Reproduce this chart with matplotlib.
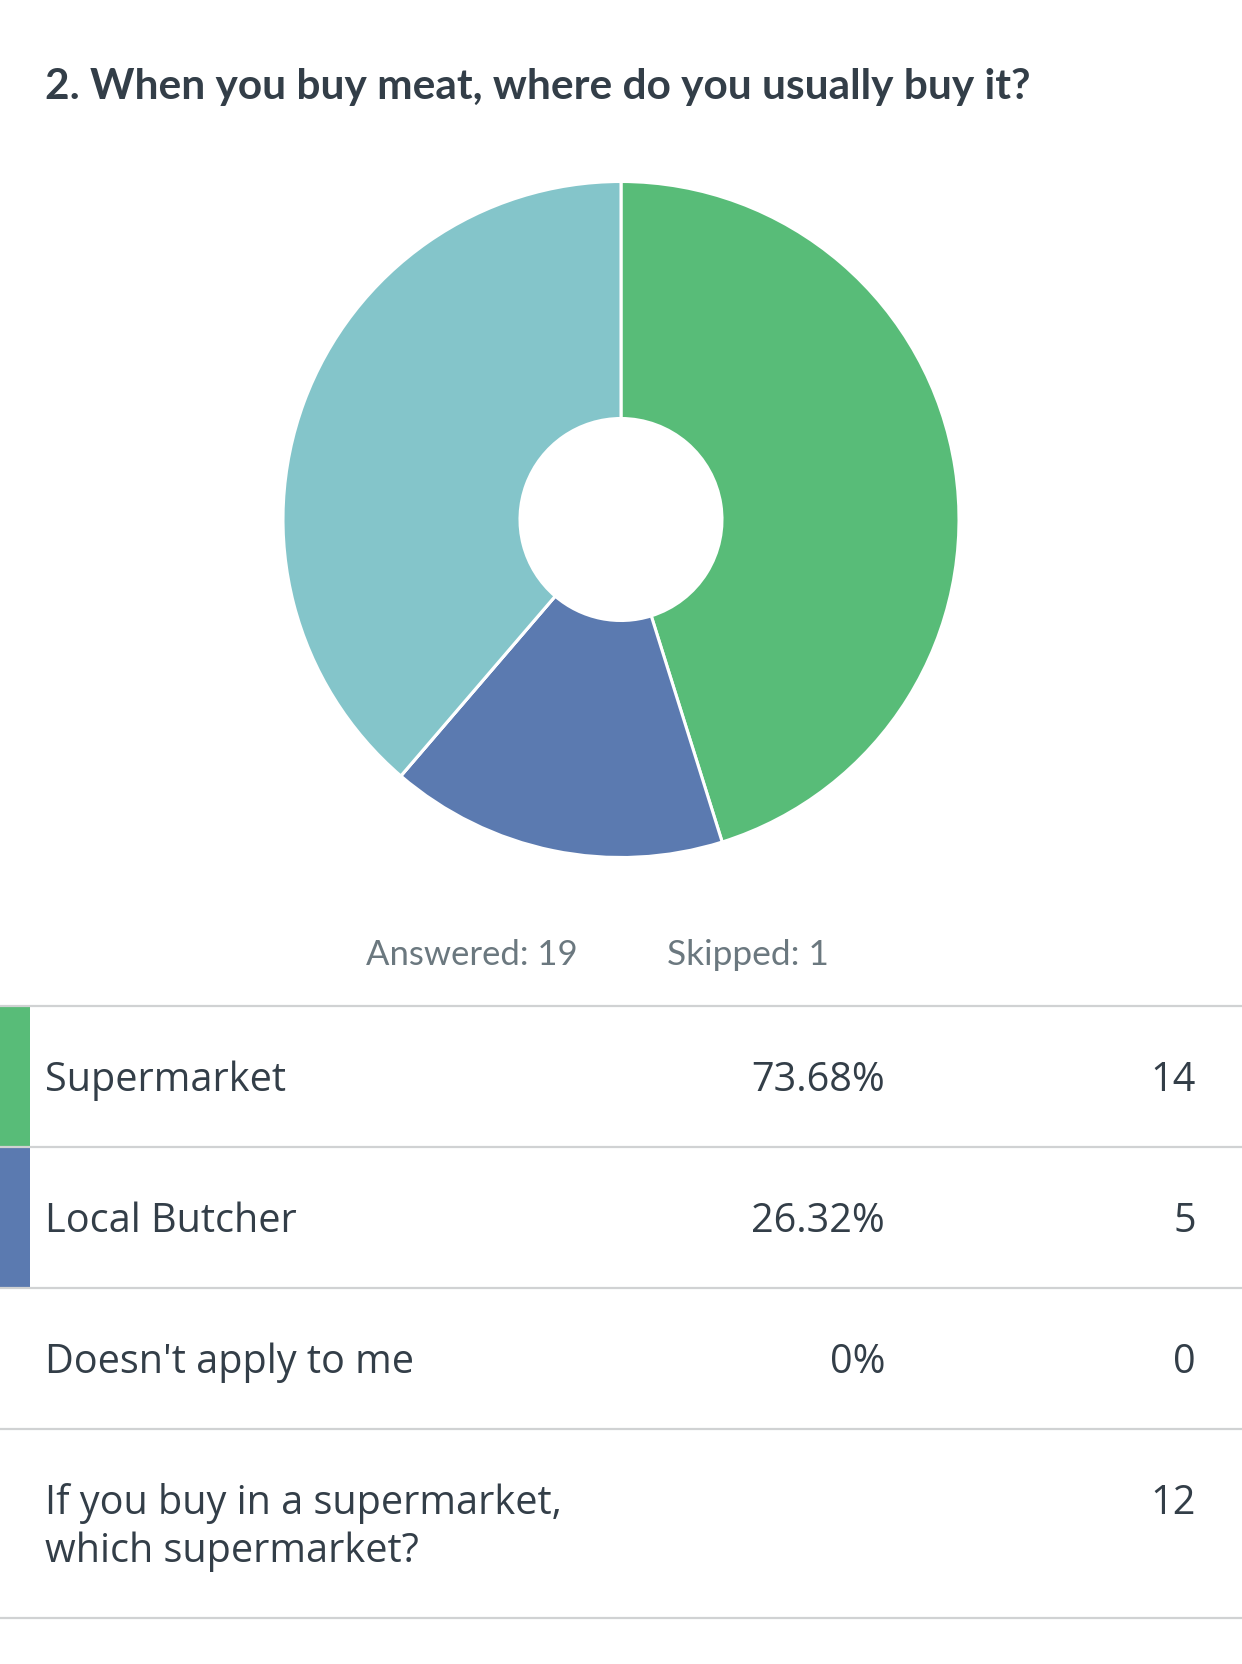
import matplotlib
matplotlib.use('Agg')
import matplotlib.pyplot as plt

# Data
title = "2. When you buy meat, where do you usually buy it?"
answered = "Answered: 19"
skipped = "Skipped: 1"
rows = ["Supermarket", "Local Butcher", "Doesn't apply to me",
        "If you buy in a supermarket,\nwhich supermarket?"]
percents = ["73.68%", "26.32%", "0%", ""]
counts = [14, 5, 0, 12]
colors = ["#58BC78", "#5B7AB0", "#FFFFFF", "#84C5CA"]

W, H = 1242, 1664
TEXT = "#333E48"
GREY = "#6B787F"
LINE = "#D0D2D3"
FONT = "Lato"
BODY = "Open Sans"

fig = plt.figure(figsize=(W / 100, H / 100), dpi=100, facecolor="white")

# page overlay in pixel coordinates
page = fig.add_axes([0, 0, 1, 1])
page.set_xlim(0, W)
page.set_ylim(H, 0)
page.axis("off")

# donut
cx, cy, R, r = 621, 519.5, 338, 101
ax = fig.add_axes([(cx - R) / W, 1 - (cy + R) / H, 2 * R / W, 2 * R / H])
ax.pie(counts, colors=colors, startangle=90, counterclock=False, radius=1,
       wedgeprops=dict(width=1 - r / R, edgecolor="white", linewidth=2.2))
ax.set_xlim(-1, 1)
ax.set_ylim(-1, 1)

page.text(45, 99, title, fontsize=30.5, fontweight="bold", color=TEXT, family=FONT)
page.text(366, 965, answered, fontsize=24.9, color=GREY, family=FONT)
page.text(667, 965, skipped, fontsize=25.4, color=GREY, family=FONT)

# table
line_y = [1006, 1147, 1288, 1429, 1618]
for y in line_y:
    page.plot([0, W], [y, y], color=LINE, lw=1.6, solid_capstyle="butt")
page.axvspan(0, 30, ymin=1 - line_y[1] / H, ymax=1 - line_y[0] / H, color=colors[0], lw=0)
page.axvspan(0, 30, ymin=1 - line_y[2] / H, ymax=1 - line_y[1] / H, color=colors[1], lw=0)

baselines = [1091, 1232, 1373, 1514]
for label, pct, n, y in zip(rows, percents, counts, baselines):
    parts = label.split("\n")
    for i, part in enumerate(parts):
        page.text(45, y + i * 48, part, fontsize=28.5, color=TEXT, family=BODY)
    page.text(885, y, pct, fontsize=28.5, color=TEXT, family=BODY, ha="right")
    page.text(1196, y, str(n), fontsize=28.5, color=TEXT, family=BODY, ha="right")

fig.savefig("out.png", dpi=100, facecolor="white")
